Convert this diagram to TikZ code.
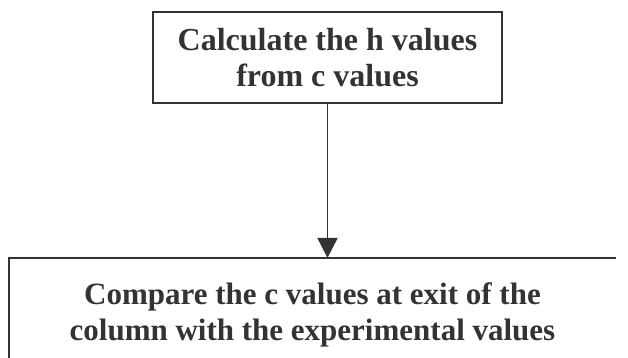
\documentclass[tikz,border=0pt]{standalone}
\usepackage{fontspec}
\setmainfont{Liberation Serif}
\usetikzlibrary{arrows.meta}

\definecolor{inkgray}{HTML}{333333}

\begin{document}
\begin{tikzpicture}[x=1pt, y=-1pt, line width=2.2pt,
    stepbox/.style={draw=inkgray, text=inkgray, align=center,
      font=\bfseries\fontsize{32}{36}\selectfont, inner sep=0pt},
    openbox/.style={text=inkgray, align=center,
      font=\bfseries\fontsize{31}{36}\selectfont, inner sep=0pt}]

\clip (0,0) rectangle (628,358);

% upper step
\node[stepbox, minimum width=349pt, minimum height=91pt] (calc) at (327.5, 57.5)
  {Calculate the h values\\from c values};

% lower step (runs off the page)
\node[openbox, minimum width=605pt, minimum height=112pt] (comp) at (312.5, 315)
  {Compare the c values at exit of the\\column with the experimental values};
\draw[inkgray] (comp.north east) -- (comp.north west) -- (comp.south west);

% connector
\draw[inkgray, line width=1.8pt, -{Triangle[width=20pt, length=20pt]}]
  (calc.south) -- (calc.south |- comp.north);

\end{tikzpicture}
\end{document}
